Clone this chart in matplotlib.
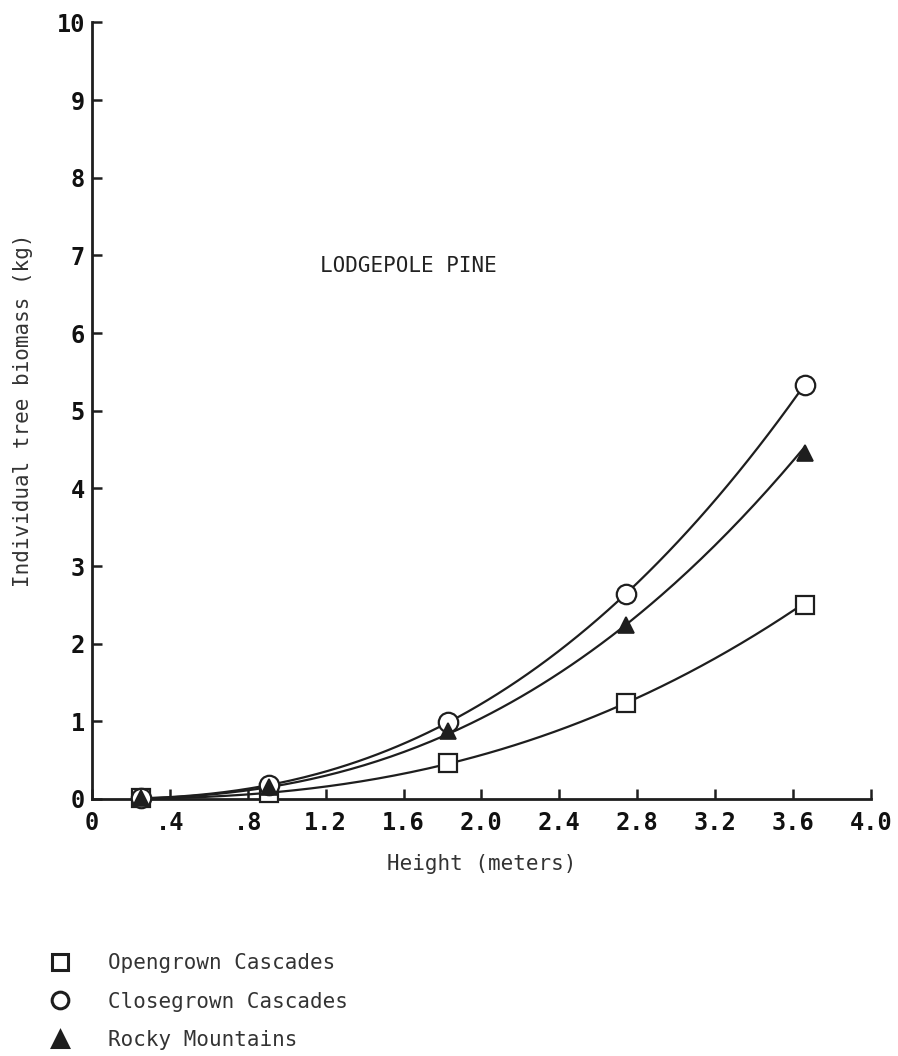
import numpy as np
import matplotlib
matplotlib.use("Agg")
import matplotlib.pyplot as plt

# Data
height_m = [0.25, 0.91, 1.83, 2.74, 3.66]
opengrown = [0.01, 0.08, 0.46, 1.24, 2.50]
closegrown = [0.01, 0.18, 0.99, 2.64, 5.33]
rocky = [0.01, 0.15, 0.87, 2.24, 4.45]

series_names = ["Opengrown Cascades", "Closegrown Cascades", "Rocky Mountains"]

x_ticks = [0, 0.4, 0.8, 1.2, 1.6, 2.0, 2.4, 2.8, 3.2, 3.6, 4.0]
x_tick_labels = ["0", ".4", ".8", "1.2", "1.6", "2.0", "2.4", "2.8", "3.2", "3.6", "4.0"]
y_ticks = list(range(0, 11))

INK = "#1e1e1e"
MONO = "DejaVu Sans Mono"


def power_curve(x, y, n=200):
    """Smooth power-law trend (y = a*x^b) through the measured points."""
    x = np.asarray(x)
    y = np.asarray(y)
    keep = y >= 0.05
    b, loga = np.polyfit(np.log(x[keep]), np.log(y[keep]), 1)
    xs = np.linspace(x.min(), x.max(), n)
    return xs, np.exp(loga) * xs ** b


def main():
    fig = plt.figure(figsize=(8.98, 10.56), dpi=100)
    ax = fig.add_axes([0.1024, 0.2434, 0.8675, 0.7353])

    styles = [
        dict(marker="s", ms=13, mfc="white", mec=INK, mew=1.6),
        dict(marker="o", ms=14, mfc="white", mec=INK, mew=1.6),
        dict(marker="^", ms=11, mfc=INK, mec=INK, mew=1.2),
    ]

    handles = []
    for vals, name, st in zip([opengrown, closegrown, rocky], series_names, styles):
        xs, ys = power_curve(height_m, vals)
        ax.plot(xs, ys, color=INK, lw=1.6, zorder=2)
        h, = ax.plot(height_m, vals, linestyle="none", zorder=3, label=name,
                     clip_on=False, **st)
        handles.append(h)

    ax.set_xlim(0, 4.0)
    ax.set_ylim(0, 10)
    ax.set_xticks(x_ticks)
    ax.set_xticklabels(x_tick_labels)
    ax.set_yticks(y_ticks)

    for s in ["top", "right"]:
        ax.spines[s].set_visible(False)
    for s in ["left", "bottom"]:
        ax.spines[s].set_linewidth(2.0)
        ax.spines[s].set_color(INK)

    ax.tick_params(direction="in", length=7, width=1.8, colors=INK)
    ax.tick_params(axis="x", pad=9)
    ax.tick_params(axis="y", pad=5)
    for lab in ax.get_xticklabels() + ax.get_yticklabels():
        lab.set_fontfamily(MONO)
        lab.set_fontweight("bold")
        lab.set_fontsize(17)
        lab.set_color("#111111")

    ax.set_xlabel("Height (meters)", fontfamily=MONO, fontsize=15,
                  color="#333333", labelpad=13)
    ax.set_ylabel("Individual tree biomass (kg)", fontfamily=MONO, fontsize=15,
                  color="#333333", labelpad=17)

    ax.text(1.17, 6.86, "LODGEPOLE PINE", fontfamily=MONO, fontsize=15,
            color="#222222", va="center", ha="left")

    leg = fig.legend(handles=handles, loc="upper left",
                     bbox_to_anchor=(50 / 898, 1 - 953 / 1056),
                     frameon=False, handlelength=1.0, handletextpad=1.8,
                     labelspacing=0.9, borderpad=0, borderaxespad=0,
                     prop={"family": MONO, "size": 15})
    for t in leg.get_texts():
        t.set_color("#333333")
    for lh in leg.legend_handles:
        lh.set_markersize(12)
        lh.set_markeredgewidth(2.2)

    fig.savefig("out.png", dpi=100)


if __name__ == "__main__":
    main()
